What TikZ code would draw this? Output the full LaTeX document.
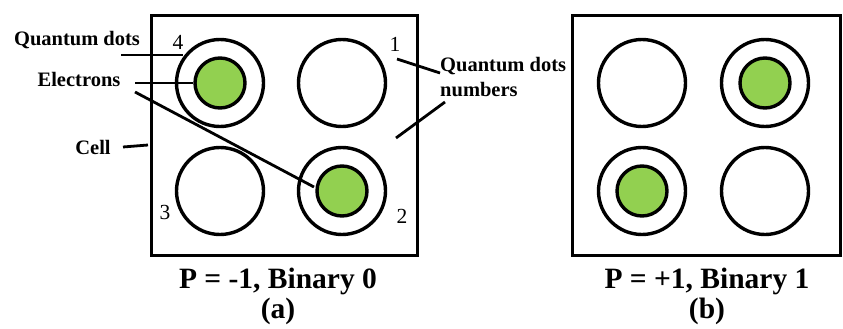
\documentclass[tikz,border=0pt]{standalone}
\usepackage{fontspec}
\setmainfont{Liberation Serif}
\definecolor{egreen}{HTML}{92D050}
\begin{document}
\begin{tikzpicture}[x=1pt,y=-1pt,
  cellbox/.style={draw,line width=3.4pt},
  dot/.style={circle,draw,line width=3.4pt,minimum size=87pt,inner sep=0pt},
  elec/.style={circle,draw,line width=3.4pt,fill=egreen,minimum size=50pt,inner sep=0pt},
  lbl/.style={inner sep=0pt,font=\fontsize{20.5}{24}\selectfont\bfseries},
  num/.style={inner sep=0pt,anchor=base,font=\fontsize{21.5}{24}\selectfont},
  captxt/.style={inner sep=0pt,anchor=base,font=\fontsize{29.5}{34}\selectfont\bfseries},
  lead/.style={line width=2.8pt}]
\useasboundingbox (0,0) rectangle (843,329);
% cell (a)
\draw[cellbox] (151.5,15.5) rectangle (417.5,255.5);
\node[dot] (a4) at (220,83) {};
\node[elec] (a4e) at (220,83) {};
\node[dot] (a1) at (342,83) {};
\node[dot] (a3) at (220,191) {};
\node[dot] (a2) at (342,191) {};
\node[elec] (a2e) at (342,191) {};
\node[num] (n4) at (178,50) {4};
\node[num] (n1) at (395,52) {1};
\node[num] (n3) at (165,219) {3};
\node[num] (n2) at (402,223) {2};
% cell (b)
\draw[cellbox] (572.5,15.5) rectangle (840.5,255.5);
\node[dot] (b1) at (642,83) {};
\node[dot] (b2) at (765,83) {};
\node[elec] (b2e) at (765,83) {};
\node[dot] (b3) at (642,191) {};
\node[elec] (b3e) at (642,191) {};
\node[dot] (b4) at (765,191) {};
% labels
\node[lbl,anchor=base] (lqd) at (77,46) {Quantum dots};
\node[lbl,anchor=base] (lel) at (79,86) {Electrons};
\node[lbl,anchor=base] (lcell) at (93,154) {Cell};
\node[lbl,anchor=base west] (lnum1) at (440,71) {Quantum dots};
\node[lbl,anchor=base west] (lnum2) at (440,96) {numbers};
% leaders
\coordinate (qdS) at (121,55);
\coordinate (qdE) at (183,55);
\draw[lead] (qdS) -- (qdE);
\coordinate (elS1) at (135,83);
\draw[lead] (elS1) -- (a4e.west);
\coordinate (elS2) at (135,92);
\coordinate (elE2) at (314,187);
\draw[lead] (elS2) -- (elE2);
\coordinate (ceS) at (123,147);
\coordinate (ceE) at (148,145);
\draw[lead] (ceS) -- (ceE);
\coordinate (nuS1) at (397,59);
\coordinate (nuE1) at (440,73);
\draw[lead] (nuS1) -- (nuE1);
\coordinate (nuS2) at (396,138);
\coordinate (nuE2) at (445,102);
\draw[lead] (nuS2) -- (nuE2);
% captions
\node[captxt] (capa) at (278,288) {P = -1, Binary 0};
\node[captxt] (capa2) at (278,318) {(a)};
\node[captxt] (capb) at (707,288) {P = +1, Binary 1};
\node[captxt] (capb2) at (707,318) {(b)};
\end{tikzpicture}
\end{document}
